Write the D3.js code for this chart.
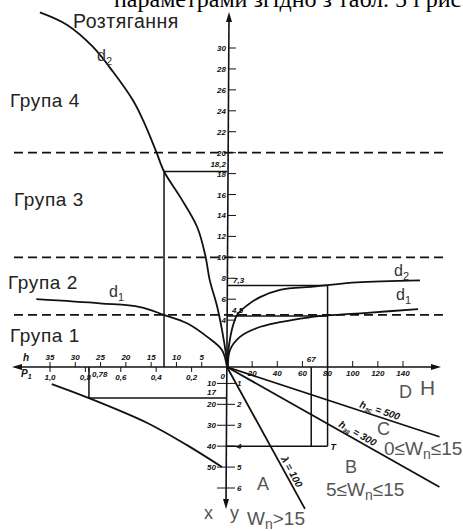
<!DOCTYPE html>
<html><head><meta charset="utf-8">
<script src="https://cdn.jsdelivr.net/npm/d3@7"></script>
<style>body{margin:0;background:#fff}svg{display:block}</style>
</head><body>
<script>
// ---- data ----
// upper-left curves: h (left scale) vs rating value (upper vertical scale)
const leftD2 = [
  {h:37.0,v:33.4},{h:31.6,v:32.2},{h:26.5,v:30.1},{h:22.5,v:27.7},{h:18.6,v:25.0},
  {h:16.6,v:23.1},{h:14.0,v:20.1},{h:12.45,v:18.2},{h:9.3,v:15.8},{h:5.9,v:12.9},
  {h:4.3,v:10.2},{h:3.4,v:7.8},{h:2.0,v:5.4},{h:1.0,v:3.1},{h:0.2,v:0.7}
];
const leftD1 = [
  {h:37.7,v:6.0},{h:25.1,v:5.6},{h:17.2,v:5.25},{h:12.45,v:4.5},{h:7.9,v:3.7},
  {h:3.9,v:2.4},{h:1.0,v:1.15}
];
// upper-right curves: H vs rating value
const rightD2 = [
  {H:153.5,v:7.8},{H:103.4,v:7.6},{H:80,v:7.35},{H:68.4,v:7.2},{H:42.2,v:6.9},
  {H:26.3,v:6.2},{H:15.9,v:5.4},{H:8.0,v:4.5},{H:4.8,v:3.5},{H:1.6,v:1.6}
];
const rightD1 = [
  {H:152,v:5.05},{H:111.4,v:4.7},{H:80,v:4.45},{H:64.4,v:4.25},{H:42.2,v:3.8},
  {H:23.9,v:3.25},{H:10.3,v:2.4},{H:2.4,v:1.15}
];
// lower-left curve: P1 vs x
const lowerLeft = [
  {p:0.99,x:10.3},{p:0.78,x:17},{p:0.45,x:28.9},{p:0.226,x:39.5},{p:0.028,x:50}
];
// lower-right ray ends: H vs x
const rays = [
  {name:"A",H:62,x:70,sym:"λ",sub:"",val:"100",t:0.76},
  {name:"B",H:169,x:59.5,sym:"h",sub:"зг",val:"300",t:0.6},
  {name:"C",H:169,x:35.5,sym:"h",sub:"зс",val:"500",t:0.71}
];
// group boundaries
const groupBounds = [20,10,4.5];
const groupLabels = ["Група 4","Група 3","Група 2","Група 1"];
// tick values
const hTicks = [5,10,15,20,25,30,35];
const p1Ticks = [0.2,0.4,0.6,0.8,1.0];
const HTicks = [20,40,60,80,100,120,140];
const upTicks = [4,6,8,10,12,14,16,18,20,22,24,26,28,30];
const dnTicks = [10,20,30,40,50,60];
// worked example
const ex = {h:12.45, d2:18.2, d1:4.5, p1:0.78, x:17, Ha:67, Hb:80, d2r:7.3, d1r:4.5, xT:40};

// ---- layout ----
const W = 463, H0 = 531;
const AX = 227, AY = 367;
const hS  = d3.scaleLinear().domain([0,35]).range([AX,50]);
const pS  = d3.scaleLinear().domain([0,1]).range([AX,50]);
const HS  = d3.scaleLinear().domain([0,140]).range([AX,403]);
const vUp = d3.scaleLinear().domain([0,30]).range([362,48]);
const vDn = d3.scaleLinear().domain([0,60]).range([362.5,488]);

const svg = d3.select("body").append("svg").attr("width",W).attr("height",H0)
  .style("font-family","'Liberation Sans', Arial, sans-serif");

// heading line of the page (cut at the top)
svg.append("text").attr("x",114).attr("y",7)
  .style("font-family","'Liberation Serif','Times New Roman',serif")
  .style("font-size","24px").attr("fill","#000")
  .text("параметрами згідно з табл. 5 і рис. 5");

const ink = "#111";
const line = d3.line().curve(d3.curveCatmullRom.alpha(0.5));

// group boundaries (dashed)
svg.selectAll(".gb").data(groupBounds).join("line")
  .attr("x1",14).attr("x2",443)
  .attr("y1",d=>vUp(d)).attr("y2",d=>vUp(d))
  .attr("stroke",ink).attr("stroke-width",1.8).attr("stroke-dasharray","9,5");

// axes
svg.append("line").attr("x1",AX+2).attr("y1",16).attr("x2",AX-1).attr("y2",505)
  .attr("stroke",ink).attr("stroke-width",1.6);
svg.append("line").attr("x1",16).attr("y1",AY).attr("x2",437).attr("y2",AY)
  .attr("stroke",ink).attr("stroke-width",1.6);
const arrows = [
  `M${AX+2},12 L${AX-1},22 L${AX+5},22 Z`,
  `M${AX-1},509 L${AX-4},499 L${AX+2},499 Z`,
  `M12,${AY} L22,${AY-3} L22,${AY+3} Z`,
  `M441,${AY} L431,${AY-3} L431,${AY+3} Z`
];
svg.selectAll(".ar").data(arrows).join("path").attr("d",d=>d).attr("fill",ink);

const tickFont = s => s.style("font-size","8px").style("font-style","italic")
  .style("font-weight","bold").attr("fill",ink);

// upper vertical ticks
svg.selectAll(".ut").data(upTicks).join("line")
  .attr("x1",AX+1).attr("x2",AX+9).attr("y1",d=>vUp(d)).attr("y2",d=>vUp(d))
  .attr("stroke",ink).attr("stroke-width",1);
svg.selectAll(".utl").data(upTicks).join("text")
  .attr("x",AX-1).attr("y",d=>vUp(d)+3).attr("text-anchor","end")
  .text(d=>d).call(tickFont);

// lower vertical ticks
svg.selectAll(".dt").data(dnTicks).join("line")
  .attr("x1",AX-10).attr("x2",AX+8).attr("y1",d=>vDn(d)).attr("y2",d=>vDn(d))
  .attr("stroke",ink).attr("stroke-width",1);
svg.selectAll(".dtl").data(dnTicks.filter(d=>d<60)).join("text")
  .attr("x",AX-11).attr("y",d=>vDn(d)+3).attr("text-anchor","end")
  .text(d=>d).call(tickFont);
svg.selectAll(".dtr").data(dnTicks).join("text")
  .attr("x",AX+10).attr("y",d=>vDn(d)+3).attr("text-anchor","start")
  .text(d=>d/10).call(tickFont);

// h ticks (above left axis)
svg.selectAll(".ht").data(hTicks).join("line")
  .attr("x1",d=>hS(d)).attr("x2",d=>hS(d)).attr("y1",AY-5).attr("y2",AY)
  .attr("stroke",ink).attr("stroke-width",1);
svg.selectAll(".htl").data(hTicks).join("text")
  .attr("x",d=>hS(d)).attr("y",AY-7).attr("text-anchor","middle")
  .text(d=>d).call(tickFont);
svg.append("text").attr("x",23).attr("y",AY-6).text("h").call(tickFont).style("font-size","10px");

// P1 ticks (below left axis)
svg.selectAll(".pt").data(p1Ticks.concat([ex.p1])).join("line")
  .attr("x1",d=>pS(d)).attr("x2",d=>pS(d)).attr("y1",AY).attr("y2",AY+5)
  .attr("stroke",ink).attr("stroke-width",1);
svg.selectAll(".ptl").data(p1Ticks).join("text")
  .attr("x",d=>pS(d)).attr("y",AY+13).attr("text-anchor","middle")
  .text(d=>d3.format(".1f")(d).replace(".",",")).call(tickFont);
svg.append("text").attr("x",pS(ex.p1)+3).attr("y",AY+10).text("0,78").call(tickFont);
svg.append("text").attr("x",AX-2).attr("y",AY+12).attr("text-anchor","end").text("0").call(tickFont);
const p1 = svg.append("text").attr("x",21).attr("y",AY+10).call(tickFont).style("font-size","10px");
p1.append("tspan").text("P");
p1.append("tspan").attr("dy",2).style("font-size","7px").text("1");

// H ticks (right axis)
svg.selectAll(".Ht").data(HTicks).join("line")
  .attr("x1",d=>HS(d)).attr("x2",d=>HS(d)).attr("y1",AY-6).attr("y2",AY)
  .attr("stroke",ink).attr("stroke-width",1);
svg.selectAll(".Htl").data(HTicks).join("text")
  .attr("x",d=>HS(d)).attr("y",AY+9).attr("text-anchor","middle")
  .text(d=>d).call(tickFont);
svg.append("text").attr("x",HS(ex.Ha)).attr("y",AY-5).attr("text-anchor","middle").text(ex.Ha).call(tickFont);

// curves
const toPx = {
  left: d=>[hS(d.h), vUp(d.v)],
  right: d=>[HS(d.H), vUp(d.v)],
  low: d=>[pS(d.p), vDn(d.x)]
};
const curves = [
  leftD2.map(toPx.left).concat([[AX,AY]]),
  leftD1.map(toPx.left).concat([[AX,AY]]),
  rightD2.map(toPx.right).concat([[AX,AY]]),
  rightD1.map(toPx.right).concat([[AX+1,AY]]),
  lowerLeft.map(toPx.low)
];
svg.selectAll(".cv").data(curves).join("path")
  .attr("d",d=>line(d)).attr("fill","none").attr("stroke",ink).attr("stroke-width",1.8);

// rays in lower right
svg.selectAll(".ray").data(rays).join("line")
  .attr("x1",AX).attr("y1",AY).attr("x2",d=>HS(d.H)).attr("y2",d=>vDn(d.x))
  .attr("stroke",ink).attr("stroke-width",1.8);

// worked example lines
const guides = [
  [[hS(ex.h),vUp(ex.d2)],[AX,vUp(ex.d2)]],
  [[hS(ex.h),vUp(ex.d2)],[hS(ex.h),AY]],
  [[pS(ex.p1),AY],[pS(ex.p1),vDn(ex.x)]],
  [[pS(ex.p1),vDn(ex.x)],[AX,vDn(ex.x)]],
  [[AX,vUp(ex.d2r)],[HS(ex.Hb),vUp(ex.d2r)]],
  [[AX,vUp(ex.d1r)+1],[HS(ex.Hb),vUp(ex.d1r)+1]],
  [[HS(ex.Hb),vUp(ex.d2r)],[HS(ex.Hb),vDn(ex.xT)]],
  [[HS(ex.Ha),AY],[HS(ex.Ha),vDn(ex.xT)]],
  [[AX,vDn(ex.xT)],[HS(ex.Hb),vDn(ex.xT)]]
];
svg.selectAll(".gd").data(guides).join("line")
  .attr("x1",d=>d[0][0]).attr("y1",d=>d[0][1]).attr("x2",d=>d[1][0]).attr("y2",d=>d[1][1])
  .attr("stroke",ink).attr("stroke-width",1.5);

// value labels of the example
svg.append("text").attr("x",AX-1).attr("y",vUp(ex.d2)-5).attr("text-anchor","end").text("18,2").call(tickFont);
svg.append("text").attr("x",AX+6).attr("y",vUp(ex.d2r)-3).text("7,3").call(tickFont);
svg.append("text").attr("x",AX+5).attr("y",vUp(ex.d1r)-2).text("4,5").call(tickFont);
svg.append("text").attr("x",AX-11).attr("y",vDn(ex.x)-3).attr("text-anchor","end").text("17").call(tickFont);
svg.append("text").attr("x",HS(ex.Hb)+3).attr("y",vDn(ex.xT)+4).text("T").call(tickFont).style("font-size","9px");

// ray labels
rays.forEach(r=>{
  const x2 = HS(r.H), y2 = vDn(r.x);
  const ang = Math.atan2(y2-AY, x2-AX)*180/Math.PI;
  const px = AX+(x2-AX)*r.t, py = AY+(y2-AY)*r.t;
  const t = svg.append("text").attr("transform",`translate(${px},${py}) rotate(${ang}) translate(0,-3)`)
    .attr("text-anchor","middle").call(tickFont).style("font-size","10px");
  t.append("tspan").text(r.sym);
  if (r.sub) t.append("tspan").attr("dy",2).style("font-size","7px").text(r.sub);
  t.append("tspan").attr("dy",r.sub?-2:0).text(" = " + r.val);
});

// group labels
const glY = [107, 206, 289, 342];
svg.selectAll(".gl").data(groupLabels).join("text")
  .attr("x",(d,i)=>[10,14,8,10][i]).attr("y",(d,i)=>glY[i])
  .style("font-size","19px").style("letter-spacing","0.6px").attr("fill","#222").text(d=>d);
svg.append("text").attr("x",73).attr("y",28).style("font-size","19.5px").style("letter-spacing","0.5px")
  .attr("fill","#222").text("Розтягання");

// curve names
function dLabel(x,y,sub){
  const t = svg.append("text").attr("x",x).attr("y",y).style("font-size","16px").attr("fill","#333");
  t.append("tspan").text("d");
  t.append("tspan").attr("dy",4).style("font-size","11px").text(sub);
}
dLabel(97,61,"2");
dLabel(109,297,"1");
dLabel(394,276,"2");
dLabel(396,300,"1");

// region names
const grey = "#555";
function region(x,y,txt,size){
  svg.append("text").attr("x",x).attr("y",y).style("font-size",size+"px").attr("fill",grey).text(txt);
}
region(399,398,"D",18);
region(420,395,"H",21);
region(377,435,"C",18);
region(345,473,"B",18);
region(257,490,"A",18);
region(204,519,"x",18);
region(230,519,"y",18);
function wLabel(x,y,pre,post){
  const t = svg.append("text").attr("x",x).attr("y",y).style("font-size","19px").attr("fill",grey);
  t.append("tspan").text(pre+"W");
  t.append("tspan").attr("dy",4).style("font-size","14px").text("n");
  t.append("tspan").attr("dy",-4).text(post);
}
wLabel(384,455,"0≤","≤15");
wLabel(326,496,"5≤","≤15");
wLabel(247,525,"",">15");
</script>
</body></html>
